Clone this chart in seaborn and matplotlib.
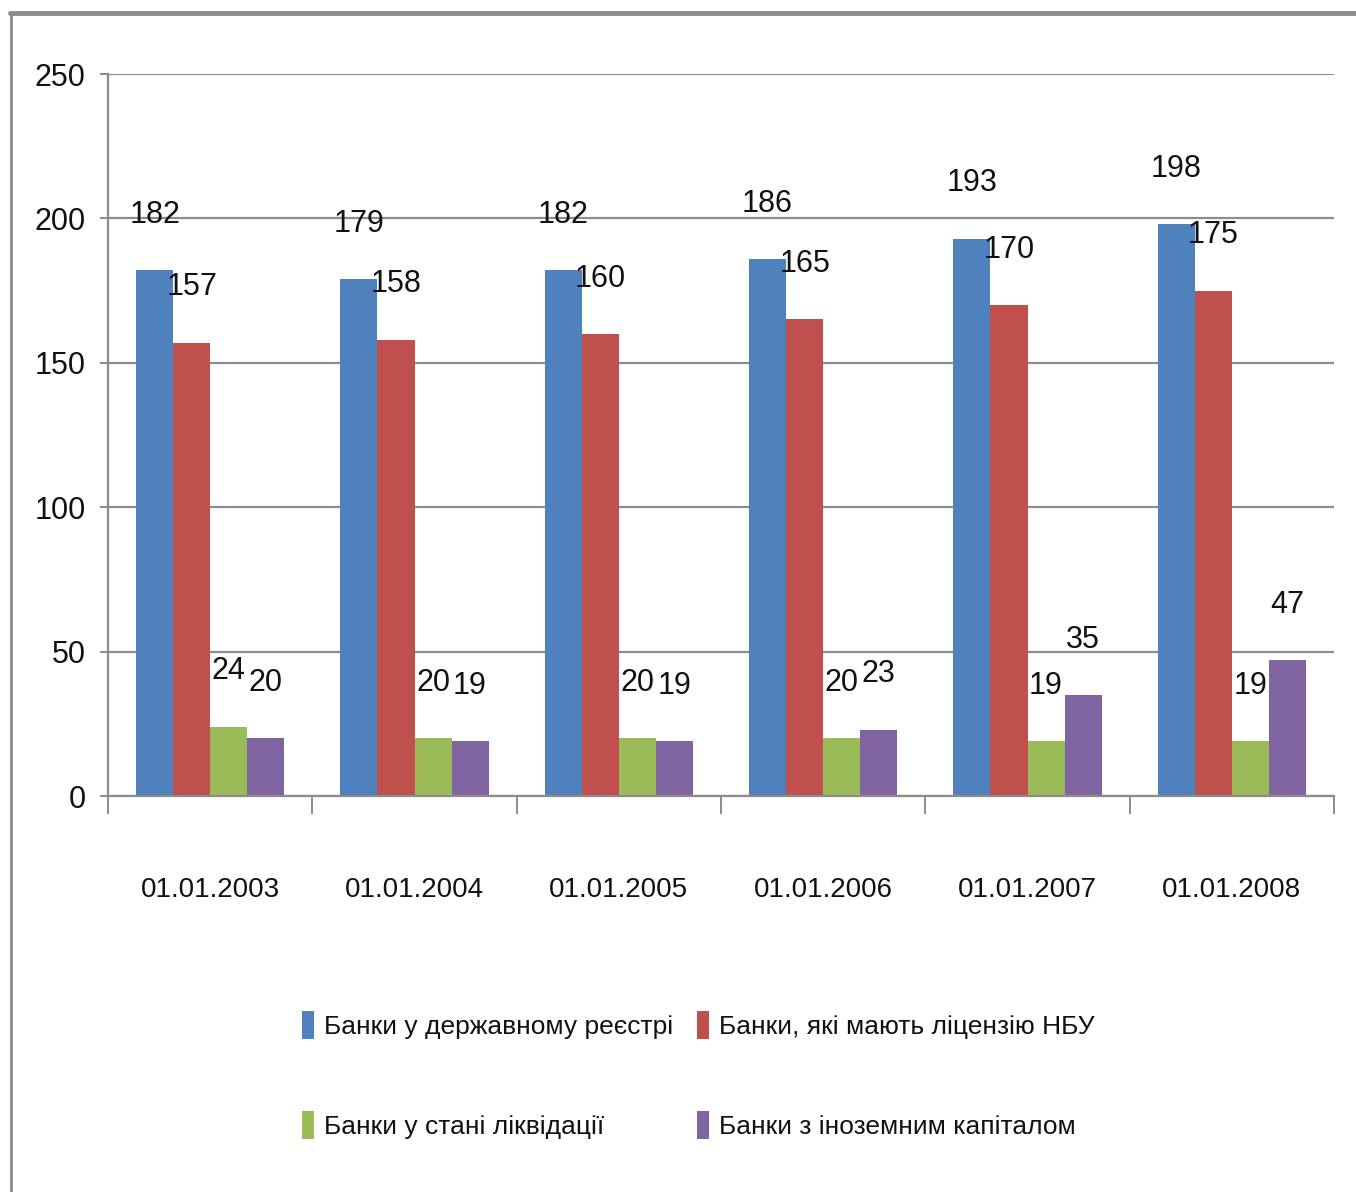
import matplotlib
matplotlib.use("Agg")
import matplotlib.pyplot as plt
from matplotlib import font_manager
from matplotlib.lines import Line2D
import seaborn as sns
import pandas as pd

# Banking sector of Ukraine, number of banks by date
dates = ["01.01.2003", "01.01.2004", "01.01.2005", "01.01.2006", "01.01.2007", "01.01.2008"]
registered = [182, 179, 182, 186, 193, 198]
licensed = [157, 158, 160, 165, 170, 175]
liquidating = [24, 20, 20, 20, 19, 19]
foreign_capital = [20, 19, 19, 23, 35, 47]

series_names = [
    "Банки у державному реєстрі",
    "Банки, які мають ліцензію НБУ",
    "Банки у стані ліквідації",
    "Банки з іноземним капіталом",
]
series_colors = ["#4F81BD", "#C0504D", "#9BBB59", "#8064A2"]

rows = []
for name, values in zip(series_names, [registered, licensed, liquidating, foreign_capital]):
    for d, v in zip(dates, values):
        rows.append({"date": d, "series": name, "value": v})
df = pd.DataFrame(rows)

sns.set_theme(style="white")
installed = {f.name for f in font_manager.fontManager.ttflist}
family = "Liberation Sans Narrow" if "Liberation Sans Narrow" in installed else "Liberation Sans"
plt.rcParams["font.family"] = [family, "DejaVu Sans"]

fig = plt.figure(figsize=(13.56, 11.92), dpi=100)
ax = fig.add_axes([108 / 1356, 1 - 796 / 1192, (1334 - 108) / 1356, (796 - 74) / 1192])

sns.barplot(data=df, x="date", y="value", hue="series", hue_order=series_names,
            order=dates, palette=series_colors, width=0.725, gap=0,
            saturation=1, linewidth=0, ax=ax, legend=True)

for container in ax.containers:
    ax.bar_label(container, padding=29, fontsize=22, color="#111111")

ax.set_ylim(0, 250)
ax.set_xlim(-0.5, len(dates) - 0.5)
ax.set_yticks(range(0, 251, 50))
ax.yaxis.grid(True, color="#8c8c8c", linewidth=1.6)
ax.set_axisbelow(True)
ax.set_xlabel("")
ax.set_ylabel("")

for side in ["top", "right"]:
    ax.spines[side].set_visible(False)
for side in ["left", "bottom"]:
    ax.spines[side].set_color("#8c8c8c")
    ax.spines[side].set_linewidth(1.6)

ax.tick_params(axis="y", left=True, length=6, width=1.4, color="#8c8c8c",
               labelsize=22, pad=10, labelcolor="#111111")
ax.tick_params(axis="x", bottom=False, labelsize=20, pad=52, labelcolor="#111111")
ax.set_xticks([i - 0.5 for i in range(len(dates) + 1)], minor=True)
ax.tick_params(axis="x", which="minor", bottom=True, length=13, width=1.4, color="#8c8c8c")

handles, labels = ax.get_legend_handles_labels()
ax.get_legend().remove()
order = [0, 2, 1, 3]
fig.legend([handles[i] for i in order], [labels[i] for i in order],
           loc="center left", bbox_to_anchor=(278 / 1356, 1 - 1075 / 1192),
           ncol=2, frameon=False, fontsize=19, handlelength=0.45, handleheight=1.3,
           handletextpad=0.4, columnspacing=0.9, labelspacing=2.7,
           labelcolor="#111111")

# Outer frame lines along the top and left edges
fig.add_artist(Line2D([10 / 1356, 1.0], [1 - 13 / 1192, 1 - 13 / 1192],
                      transform=fig.transFigure, color="#8c8c8c", linewidth=3.5))
fig.add_artist(Line2D([11 / 1356, 11 / 1356], [0, 1 - 13 / 1192],
                      transform=fig.transFigure, color="#8c8c8c", linewidth=2))

fig.savefig("out.png", dpi=100)
